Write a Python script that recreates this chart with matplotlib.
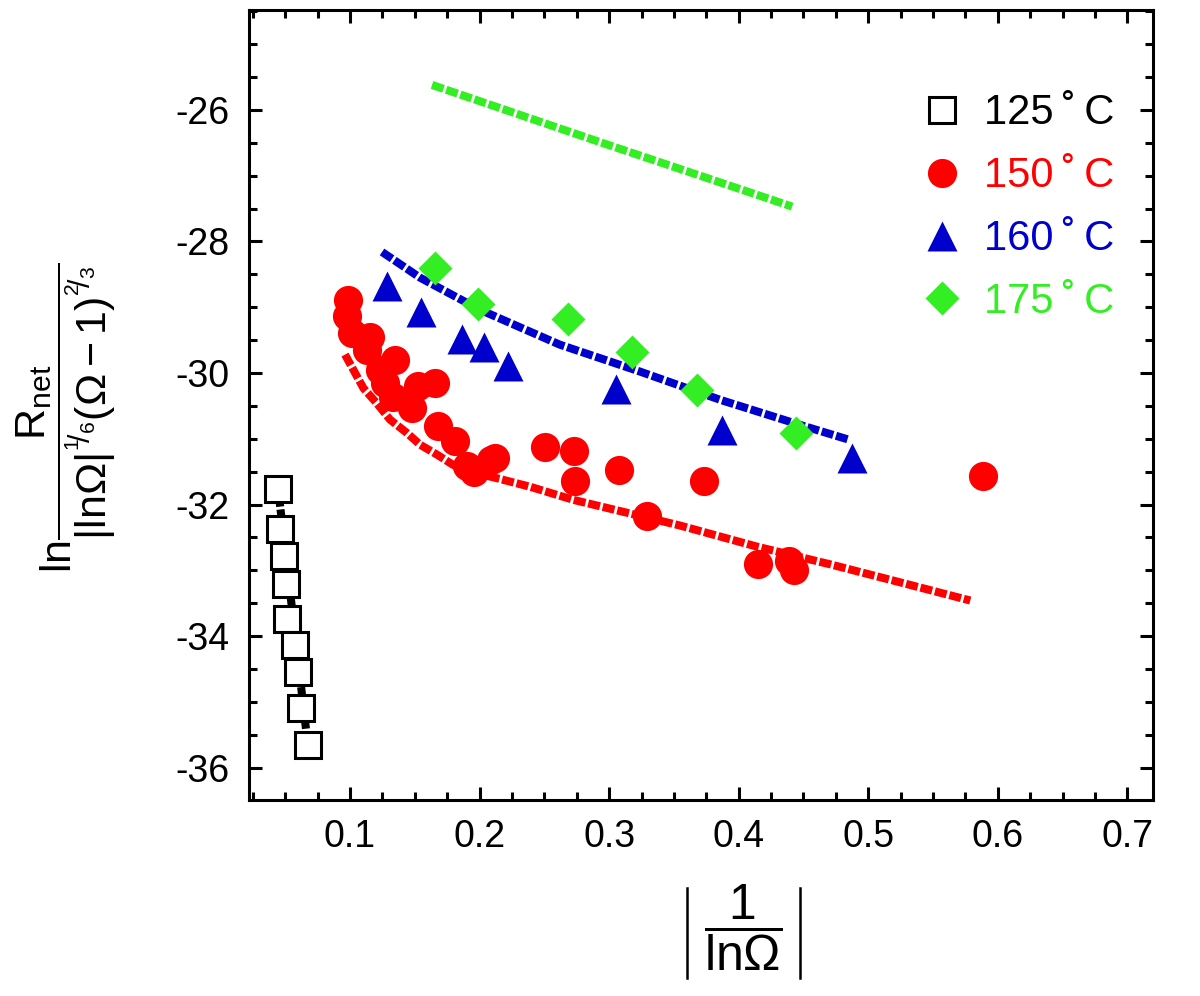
import matplotlib
matplotlib.use("Agg")
import matplotlib.pyplot as plt
from matplotlib.ticker import MultipleLocator
from matplotlib.lines import Line2D
import numpy as np

plt.rcParams['font.family'] = ['Liberation Sans', 'DejaVu Sans']
plt.rcParams['mathtext.fontset'] = 'custom'
plt.rcParams['mathtext.rm'] = 'Liberation Sans'
plt.rcParams['mathtext.it'] = 'Liberation Sans'
plt.rcParams['mathtext.sf'] = 'Liberation Sans'
plt.rcParams['mathtext.fallback'] = 'stixsans'

# 125 C
x125 = [0.0442, 0.0457, 0.0488, 0.0502, 0.0515, 0.0577, 0.0601, 0.0622, 0.0678]
y125 = [-31.76, -32.37, -32.78, -33.21, -33.74, -34.14, -34.55, -35.10, -35.65]
fit125_x = [0.045, 0.0665]
fit125_y = [-31.85, -35.5]

# 150 C
x150 = [0.0987, 0.0974, 0.1013, 0.1154, 0.1129, 0.1347, 0.1230, 0.1270, 0.1528,
        0.1656, 0.1330, 0.1480, 0.1680, 0.1810, 0.1900, 0.1960, 0.2090, 0.2120,
        0.2506, 0.2725, 0.2737, 0.3073, 0.3296, 0.3734, 0.4148, 0.4386, 0.4429,
        0.5886]
y150 = [-28.89, -29.14, -29.39, -29.45, -29.65, -29.80, -29.95, -30.15, -30.20,
        -30.15, -30.36, -30.53, -30.81, -31.04, -31.42, -31.50, -31.32, -31.29,
        -31.13, -31.19, -31.65, -31.48, -32.17, -31.65, -32.90, -32.86, -32.99,
        -31.56]
fit150_x = [0.0961, 0.1039, 0.1103, 0.1206, 0.1309, 0.1438, 0.1540, 0.1670,
            0.1798, 0.1927, 0.2133, 0.2390, 0.2725, 0.3085, 0.3548, 0.4140,
            0.4707, 0.5220, 0.5788]
fit150_y = [-29.72, -30.00, -30.23, -30.46, -30.71, -30.91, -31.09, -31.24,
            -31.40, -31.50, -31.60, -31.73, -31.93, -32.10, -32.32, -32.64,
            -32.91, -33.17, -33.46]

# 160 C
x160 = [0.1286, 0.1546, 0.1868, 0.2032, 0.2223, 0.3050, 0.3870, 0.4873]
y160 = [-28.67, -29.07, -29.48, -29.60, -29.89, -30.25, -30.87, -31.30]
fit160_x = [0.1247, 0.1540, 0.2004, 0.2620, 0.3240, 0.3860, 0.4475, 0.4860]
fit160_y = [-28.16, -28.55, -29.04, -29.57, -29.98, -30.41, -30.79, -31.02]

# 175 C
x175 = [0.1656, 0.1986, 0.2683, 0.3178, 0.3680, 0.4442]
y175 = [-28.40, -28.95, -29.18, -29.68, -30.26, -30.92]
fit175_x = [0.1633, 0.2930, 0.4413]
fit175_y = [-25.62, -26.49, -27.47]

labels = ['125\u2009˚\u2009C', '150\u2009˚\u2009C', '160\u2009˚\u2009C', '175\u2009˚\u2009C']
colors = ['black', '#ff0000', '#0000cc', '#33ee22']

fig = plt.figure(figsize=(12, 9.96), dpi=100)
ax = fig.add_axes([0.2075, 0.197, 0.7535, 0.793])

dash = (0, (1.5, 0.35))
lw = 5.8
ax.plot(fit125_x, fit125_y, color=colors[0], lw=lw, ls=dash, zorder=1)
ax.plot(fit150_x, fit150_y, color=colors[1], lw=lw, ls=dash, zorder=1)
ax.plot(fit160_x, fit160_y, color=colors[2], lw=lw, ls=dash, zorder=1)
ax.plot(fit175_x, fit175_y, color=colors[3], lw=lw, ls=dash, zorder=1)

ax.plot(x125, y125, 's', ms=19, mfc='white', mec='black', mew=2.2,
        label=labels[0], zorder=3)
ax.plot(x150, y150, 'o', ms=21, mfc=colors[1], mec='none',
        label=labels[1], zorder=3)
ax.plot(x160, y160, '^', ms=21, mfc=colors[2], mec='none',
        label=labels[2], zorder=3)
ax.plot(x175, y175, 'D', ms=17, mfc=colors[3], mec='none',
        label=labels[3], zorder=4)

ax.set_xlim(0.022, 0.72)
ax.set_ylim(-36.49, -24.48)
ax.xaxis.set_major_locator(MultipleLocator(0.1))
ax.xaxis.set_minor_locator(MultipleLocator(0.025))
ax.yaxis.set_major_locator(MultipleLocator(2))
ax.yaxis.set_minor_locator(MultipleLocator(0.5))
ax.set_xticks([0.1, 0.2, 0.3, 0.4, 0.5, 0.6, 0.7])
ax.set_xticklabels(['0.1', '0.2', '0.3', '0.4', '0.5', '0.6', '0.7'])
ax.set_yticks([-26, -28, -30, -32, -34, -36])
ax.set_yticklabels(['-26', '-28', '-30', '-32', '-34', '-36'])

ax.tick_params(which='both', direction='in', top=True, right=True,
               labelsize=27, width=2.2)
ax.tick_params(which='major', length=9.5, pad=14)
ax.tick_params(which='minor', length=5.5)
for s in ax.spines.values():
    s.set_linewidth(2.2)

# x label: fraction with thin absolute-value bars
ax.set_xlabel(r'$\dfrac{1}{\mathrm{ln}\Omega}$', fontsize=36)
ax.xaxis.set_label_coords(0.546, -0.105)
for bx in (687, 800):
    fig.add_artist(Line2D([bx / 1200, bx / 1200], [1 - 888 / 996, 1 - 978 / 996],
                          color='black', lw=1.8, transform=fig.transFigure))

ax.set_ylabel(r'$\mathrm{ln}\dfrac{\mathrm{R}_{\mathrm{net}}}'
              r'{|\mathrm{ln}\Omega|^{{}^{1}\!/_{6}}(\Omega-1)^{{}^{2}\!/_{3}}}$',
              fontsize=31)
ax.yaxis.set_label_coords(-0.145, 0.484)

leg = ax.legend(loc='upper right', bbox_to_anchor=(0.998, 0.942), frameon=False,
                fontsize=30, labelcolor=colors, handletextpad=0.5,
                labelspacing=0.55, handlelength=1.0, markerscale=1.0)

fig.savefig('out.png', dpi=100)
